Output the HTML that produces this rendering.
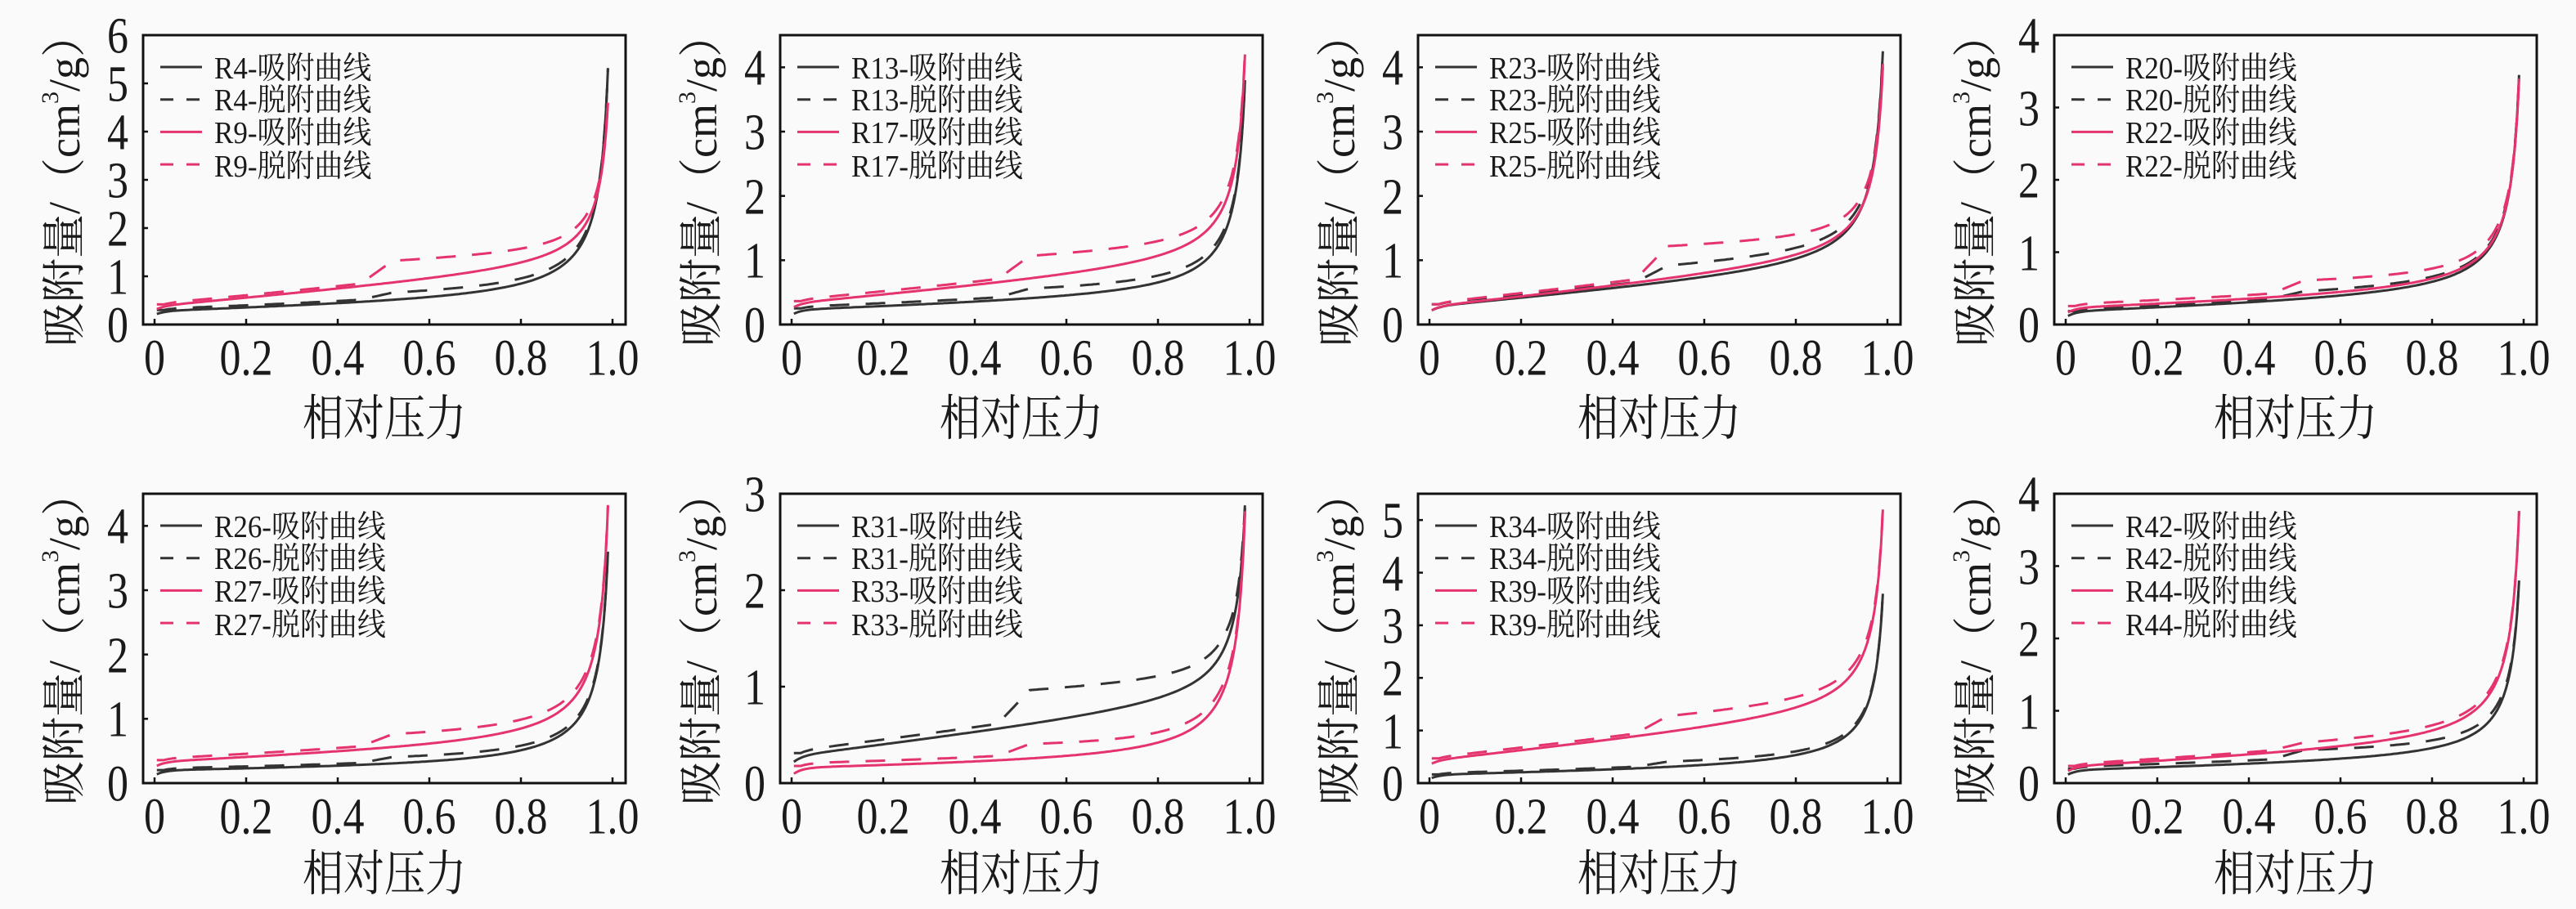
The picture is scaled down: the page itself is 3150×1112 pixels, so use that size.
<!DOCTYPE html>
<html><head><meta charset="utf-8">
<style>
html,body{margin:0;padding:0;background:#fafafa;}
svg{display:block;}
text{font-family:"Liberation Serif","Noto Serif CJK SC",serif;fill:#1a1a1a;}
.t{font-size:52px;text-anchor:middle;transform:scaleY(1.2);transform-box:fill-box;transform-origin:center;}
.ya{text-anchor:end;}
.lg{font-size:35px;transform:scaleY(1.08);transform-box:fill-box;transform-origin:center;}
.ti{font-size:54px;text-anchor:middle;}
.xt{font-size:50px;text-anchor:middle;transform:scaleY(1.2);transform-box:fill-box;transform-origin:center;}
</style></head><body>
<svg id="s" width="3150" height="1112" viewBox="0 0 3150 1112" xmlns="http://www.w3.org/2000/svg">
<!-- Panel 1 -->
<g transform="translate(175,43)">
<text class="t" x="14" y="412">0</text><text class="t" x="126" y="412">0.2</text><text class="t" x="238" y="412">0.4</text><text class="t" x="350" y="412">0.6</text><text class="t" x="462" y="412">0.8</text><text class="t" x="574" y="412">1.0</text>
<text class="t ya" x="-18" y="372">0</text><text class="t ya" x="-18" y="313">1</text><text class="t ya" x="-18" y="254">2</text><text class="t ya" x="-18" y="195">3</text><text class="t ya" x="-18" y="136">4</text><text class="t ya" x="-18" y="77">5</text><text class="t ya" x="-18" y="18">6</text>
<text class="lg" x="87" y="52">R4-吸附曲线</text><text class="lg" x="87" y="91">R4-脱附曲线</text><text class="lg" x="87" y="131">R9-吸附曲线</text><text class="lg" x="87" y="172">R9-脱附曲线</text>
<text class="ti" transform="translate(-96,177) rotate(-90)" dominant-baseline="central">吸附量/（cm<tspan font-size="30" dy="-18">3</tspan><tspan dy="18">/g）</tspan></text>
<text class="xt" x="295" y="486">相对压力</text>
</g>
<!-- Panel 2 -->
<g transform="translate(954,43)">
<text class="t" x="14" y="412">0</text><text class="t" x="126" y="412">0.2</text><text class="t" x="238" y="412">0.4</text><text class="t" x="350" y="412">0.6</text><text class="t" x="462" y="412">0.8</text><text class="t" x="574" y="412">1.0</text>
<text class="t ya" x="-18" y="372">0</text><text class="t ya" x="-18" y="293">1</text><text class="t ya" x="-18" y="215">2</text><text class="t ya" x="-18" y="136">3</text><text class="t ya" x="-18" y="57">4</text>
<text class="lg" x="87" y="52">R13-吸附曲线</text><text class="lg" x="87" y="91">R13-脱附曲线</text><text class="lg" x="87" y="131">R17-吸附曲线</text><text class="lg" x="87" y="172">R17-脱附曲线</text>
<text class="ti" transform="translate(-96,177) rotate(-90)" dominant-baseline="central">吸附量/（cm<tspan font-size="30" dy="-18">3</tspan><tspan dy="18">/g）</tspan></text>
<text class="xt" x="295" y="486">相对压力</text>
</g>
<!-- Panel 3 -->
<g transform="translate(1734,43)">
<text class="t" x="14" y="412">0</text><text class="t" x="126" y="412">0.2</text><text class="t" x="238" y="412">0.4</text><text class="t" x="350" y="412">0.6</text><text class="t" x="462" y="412">0.8</text><text class="t" x="574" y="412">1.0</text>
<text class="t ya" x="-18" y="372">0</text><text class="t ya" x="-18" y="293">1</text><text class="t ya" x="-18" y="215">2</text><text class="t ya" x="-18" y="136">3</text><text class="t ya" x="-18" y="57">4</text>
<text class="lg" x="87" y="52">R23-吸附曲线</text><text class="lg" x="87" y="91">R23-脱附曲线</text><text class="lg" x="87" y="131">R25-吸附曲线</text><text class="lg" x="87" y="172">R25-脱附曲线</text>
<text class="ti" transform="translate(-96,177) rotate(-90)" dominant-baseline="central">吸附量/（cm<tspan font-size="30" dy="-18">3</tspan><tspan dy="18">/g）</tspan></text>
<text class="xt" x="295" y="486">相对压力</text>
</g>
<!-- Panel 4 -->
<g transform="translate(2512,43)">
<text class="t" x="14" y="412">0</text><text class="t" x="126" y="412">0.2</text><text class="t" x="238" y="412">0.4</text><text class="t" x="350" y="412">0.6</text><text class="t" x="462" y="412">0.8</text><text class="t" x="574" y="412">1.0</text>
<text class="t ya" x="-18" y="372">0</text><text class="t ya" x="-18" y="284">1</text><text class="t ya" x="-18" y="195">2</text><text class="t ya" x="-18" y="107">3</text><text class="t ya" x="-18" y="18">4</text>
<text class="lg" x="87" y="52">R20-吸附曲线</text><text class="lg" x="87" y="91">R20-脱附曲线</text><text class="lg" x="87" y="131">R22-吸附曲线</text><text class="lg" x="87" y="172">R22-脱附曲线</text>
<text class="ti" transform="translate(-96,177) rotate(-90)" dominant-baseline="central">吸附量/（cm<tspan font-size="30" dy="-18">3</tspan><tspan dy="18">/g）</tspan></text>
<text class="xt" x="295" y="486">相对压力</text>
</g>
<!-- Panel 5 -->
<g transform="translate(175,604)">
<text class="t" x="14" y="412">0</text><text class="t" x="126" y="412">0.2</text><text class="t" x="238" y="412">0.4</text><text class="t" x="350" y="412">0.6</text><text class="t" x="462" y="412">0.8</text><text class="t" x="574" y="412">1.0</text>
<text class="t ya" x="-18" y="372">0</text><text class="t ya" x="-18" y="293">1</text><text class="t ya" x="-18" y="215">2</text><text class="t ya" x="-18" y="136">3</text><text class="t ya" x="-18" y="57">4</text>
<text class="lg" x="87" y="52">R26-吸附曲线</text><text class="lg" x="87" y="91">R26-脱附曲线</text><text class="lg" x="87" y="131">R27-吸附曲线</text><text class="lg" x="87" y="172">R27-脱附曲线</text>
<text class="ti" transform="translate(-96,177) rotate(-90)" dominant-baseline="central">吸附量/（cm<tspan font-size="30" dy="-18">3</tspan><tspan dy="18">/g）</tspan></text>
<text class="xt" x="295" y="482">相对压力</text>
</g>
<!-- Panel 6 -->
<g transform="translate(954,604)">
<text class="t" x="14" y="412">0</text><text class="t" x="126" y="412">0.2</text><text class="t" x="238" y="412">0.4</text><text class="t" x="350" y="412">0.6</text><text class="t" x="462" y="412">0.8</text><text class="t" x="574" y="412">1.0</text>
<text class="t ya" x="-18" y="372">0</text><text class="t ya" x="-18" y="254">1</text><text class="t ya" x="-18" y="136">2</text><text class="t ya" x="-18" y="18">3</text>
<text class="lg" x="87" y="52">R31-吸附曲线</text><text class="lg" x="87" y="91">R31-脱附曲线</text><text class="lg" x="87" y="131">R33-吸附曲线</text><text class="lg" x="87" y="172">R33-脱附曲线</text>
<text class="ti" transform="translate(-96,177) rotate(-90)" dominant-baseline="central">吸附量/（cm<tspan font-size="30" dy="-18">3</tspan><tspan dy="18">/g）</tspan></text>
<text class="xt" x="295" y="482">相对压力</text>
</g>
<!-- Panel 7 -->
<g transform="translate(1734,604)">
<text class="t" x="14" y="412">0</text><text class="t" x="126" y="412">0.2</text><text class="t" x="238" y="412">0.4</text><text class="t" x="350" y="412">0.6</text><text class="t" x="462" y="412">0.8</text><text class="t" x="574" y="412">1.0</text>
<text class="t ya" x="-18" y="372">0</text><text class="t ya" x="-18" y="308">1</text><text class="t ya" x="-18" y="243">2</text><text class="t ya" x="-18" y="179">3</text><text class="t ya" x="-18" y="115">4</text><text class="t ya" x="-18" y="50">5</text>
<text class="lg" x="87" y="52">R34-吸附曲线</text><text class="lg" x="87" y="91">R34-脱附曲线</text><text class="lg" x="87" y="131">R39-吸附曲线</text><text class="lg" x="87" y="172">R39-脱附曲线</text>
<text class="ti" transform="translate(-96,177) rotate(-90)" dominant-baseline="central">吸附量/（cm<tspan font-size="30" dy="-18">3</tspan><tspan dy="18">/g）</tspan></text>
<text class="xt" x="295" y="482">相对压力</text>
</g>
<!-- Panel 8 -->
<g transform="translate(2512,604)">
<text class="t" x="14" y="412">0</text><text class="t" x="126" y="412">0.2</text><text class="t" x="238" y="412">0.4</text><text class="t" x="350" y="412">0.6</text><text class="t" x="462" y="412">0.8</text><text class="t" x="574" y="412">1.0</text>
<text class="t ya" x="-18" y="372">0</text><text class="t ya" x="-18" y="284">1</text><text class="t ya" x="-18" y="195">2</text><text class="t ya" x="-18" y="107">3</text><text class="t ya" x="-18" y="18">4</text>
<text class="lg" x="87" y="52">R42-吸附曲线</text><text class="lg" x="87" y="91">R42-脱附曲线</text><text class="lg" x="87" y="131">R44-吸附曲线</text><text class="lg" x="87" y="172">R44-脱附曲线</text>
<text class="ti" transform="translate(-96,177) rotate(-90)" dominant-baseline="central">吸附量/（cm<tspan font-size="30" dy="-18">3</tspan><tspan dy="18">/g）</tspan></text>
<text class="xt" x="295" y="482">相对压力</text>
</g>
<g id="gfx"></g>
</svg>
<script>
(function(){
var NS="http://www.w3.org/2000/svg";
var gfx=document.getElementById("gfx");
var P=[
 {L:175,T:43,ym:6,s:[[0.2,0.5,5.3,0.15],[0.3,0.85,4.6,0.45]]},
 {L:954,T:43,ym:4.5,s:[[0.15,0.4,3.8,0.15],[0.25,0.7,4.2,0.35]]},
 {L:1734,T:43,ym:4.5,s:[[0.2,0.65,4.25,0.25],[0.2,0.7,4.0,0.5]]},
 {L:2512,T:43,ym:4,s:[[0.1,0.35,3.45,0.1],[0.15,0.4,3.4,0.2]]},
 {L:175,T:604,ym:4.5,s:[[0.12,0.3,3.6,0.1],[0.25,0.55,4.3,0.2]]},
 {L:954,T:604,ym:3,s:[[0.2,0.6,2.85,0.35],[0.08,0.25,2.8,0.15]]},
 {L:1734,T:604,ym:5.5,s:[[0.08,0.3,3.6,0.1],[0.35,0.95,5.2,0.3]]},
 {L:2512,T:604,ym:4,s:[[0.1,0.3,2.8,0.15],[0.15,0.45,3.75,0.1]]}
];
function el(t,a){var e=document.createElementNS(NS,t);for(var k in a)e.setAttribute(k,a[k]);gfx.appendChild(e);return e;}
var COL=["#333333","#e5336d"];
function Tm(p){return 1/(1.01-p)-1;}
P.forEach(function(pn){
  var L=pn.L,T=pn.T,ym=pn.ym;
  function X(p){return L+14+560*p;}
  function Y(v){return T+354-v*354/ym;}
  el("rect",{x:L,y:T,width:590,height:354,fill:"none",stroke:"#111","stroke-width":3});
  for(var k=0;k<=5;k++){var x=L+14+112*k;el("line",{x1:x,y1:T+354,x2:x,y2:T+347,stroke:"#111","stroke-width":2.5});}
  for(var v=1;v<=Math.floor(ym);v++){var y=Y(v);el("line",{x1:L,y1:y,x2:L+6,y2:y,stroke:"#111","stroke-width":2.5});}
  pn.s.forEach(function(sr,i){
    var y0=sr[0],m=sr[1],e=sr[2],d5=sr[3],g=0.08;
    function b(p){return y0+g*(1-Math.exp(-p/0.02));}
    var A=m-b(0.5),B=e-b(0.99),t5=Tm(0.5),t9=Tm(0.99);
    var det=0.5*t9-t5*0.99;
    var s=(A*t9-t5*B)/det,c=(0.5*B-0.99*A)/det;
    function ads(p){return b(p)+s*p+c*Tm(p);}
    var off=Math.min(0.05,d5*0.3),H=d5-off;
    function des(p){
      var bump=0;
      if(p>=0.52)bump=H*Math.pow((1-p)/0.48,0.6);
      else if(p>0.45)bump=H*(p-0.45)/0.07;
      var o=off*Math.min(1,(1-p)/0.05);
      return ads(p)+o+bump;
    }
    var pts=[];for(var p=0.005;p<=0.9;p+=0.005)pts.push(p);
    for(var p=0.9;p<=0.9901;p+=0.001)pts.push(p);
    function path(f){return pts.map(function(p,j){return (j?"L":"M")+X(p).toFixed(1)+" "+Math.max(T+2,Y(f(p))).toFixed(1);}).join(" ");}
    el("path",{d:path(ads),fill:"none",stroke:COL[i],"stroke-width":3});
    el("path",{d:path(function(p){return des(Math.max(p,0.02));}),fill:"none",stroke:COL[i],"stroke-width":3,"stroke-dasharray":"24 20"});
    var ly1=T+39+(i*2)*39.7, ly2=T+39+(i*2+1)*39.7;
    el("line",{x1:L+21,y1:ly1,x2:L+72,y2:ly1,stroke:COL[i],"stroke-width":3});
    el("line",{x1:L+21,y1:ly2,x2:L+72,y2:ly2,stroke:COL[i],"stroke-width":3,"stroke-dasharray":"16 16"});
  });
});
})();
</script>
</body></html>
